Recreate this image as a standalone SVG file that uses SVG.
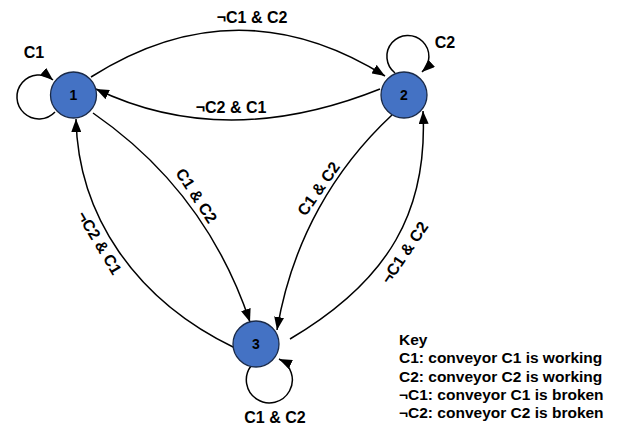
<svg xmlns="http://www.w3.org/2000/svg" width="621" height="427" viewBox="0 0 621 427">
<style>
.node{fill:#4472C4;stroke:#1A2A48;stroke-width:1.3}
.num{font-family:"Liberation Sans",Arial,sans-serif;font-weight:bold;font-size:14px;fill:#000;text-anchor:middle}
.edge{fill:none;stroke:#000;stroke-width:1.5;marker-end:url(#arr)}
.lbl{font-family:"Liberation Sans",Arial,sans-serif;font-weight:bold;font-size:16px;fill:#000;text-anchor:middle}
.key{font-family:"Liberation Sans",Arial,sans-serif;font-weight:bold;font-size:15.5px;fill:#000}
</style>
<defs>
<marker id="arr" markerUnits="userSpaceOnUse" markerWidth="14" markerHeight="10" refX="13" refY="5" orient="auto">
<path d="M0,0 L13,5 L0,10 Z" fill="#000"/>
</marker>
</defs>
<rect width="621" height="427" fill="#fff"/>
<g id="connectors">
<path class="edge" d="M91,77 Q238,-16 385,76"/>
<path class="edge" d="M380,89 Q225,151 96,89"/>
<path class="edge" d="M93,113 Q206,191 250,322"/>
<path class="edge" d="M392,115 C335,168 292,240 277,330"/>
<path class="edge" d="M290,339 C390,280 428,210 423,111"/>
<path class="edge" d="M235,348 C135,300 78,215 76,119"/>
<path class="edge" d="M55,112 A22,22 0 1 1 53,80"/>
<path class="edge" d="M395,73 A21,21 0 1 1 422,72"/>
<path class="edge" d="M251,366 A23,23 0 1 0 279,359"/>
<text class="lbl" x="252" y="23">¬C1 &amp; C2</text>
<text class="lbl" x="231" y="113">¬C2 &amp; C1</text>
<text class="lbl" x="34" y="58">C1</text>
<text class="lbl" x="445" y="48">C2</text>
<text class="lbl" x="275" y="423">C1 &amp; C2</text>
<text class="lbl" transform="translate(196,196) rotate(57)" y="5">C1 &amp; C2</text>
<text class="lbl" transform="translate(319,189) rotate(-55)" y="5">C1 &amp; C2</text>
<text class="lbl" transform="translate(405,253) rotate(-56)" y="5">¬C1 &amp; C2</text>
<text class="lbl" transform="translate(99,243) rotate(59)" y="5">¬C2 &amp; C1</text>
</g>
<g id="node1"><circle class="node" cx="73.5" cy="95" r="23"/><text class="num" x="73.5" y="100">1</text></g>
<g id="node2"><circle class="node" cx="404" cy="95" r="23"/><text class="num" x="404" y="100">2</text></g>
<g id="node3"><circle class="node" cx="256" cy="344" r="23"/><text class="num" x="256" y="349">3</text></g>
<g id="key">
<text class="key" x="399" y="345">Key</text>
<text class="key" x="399" y="363.3">C1: conveyor C1 is working</text>
<text class="key" x="399" y="381.7">C2: conveyor C2 is working</text>
<text class="key" x="399" y="400">¬C1: conveyor C1 is broken</text>
<text class="key" x="399" y="418.3">¬C2: conveyor C2 is broken</text>
</g>
</svg>
